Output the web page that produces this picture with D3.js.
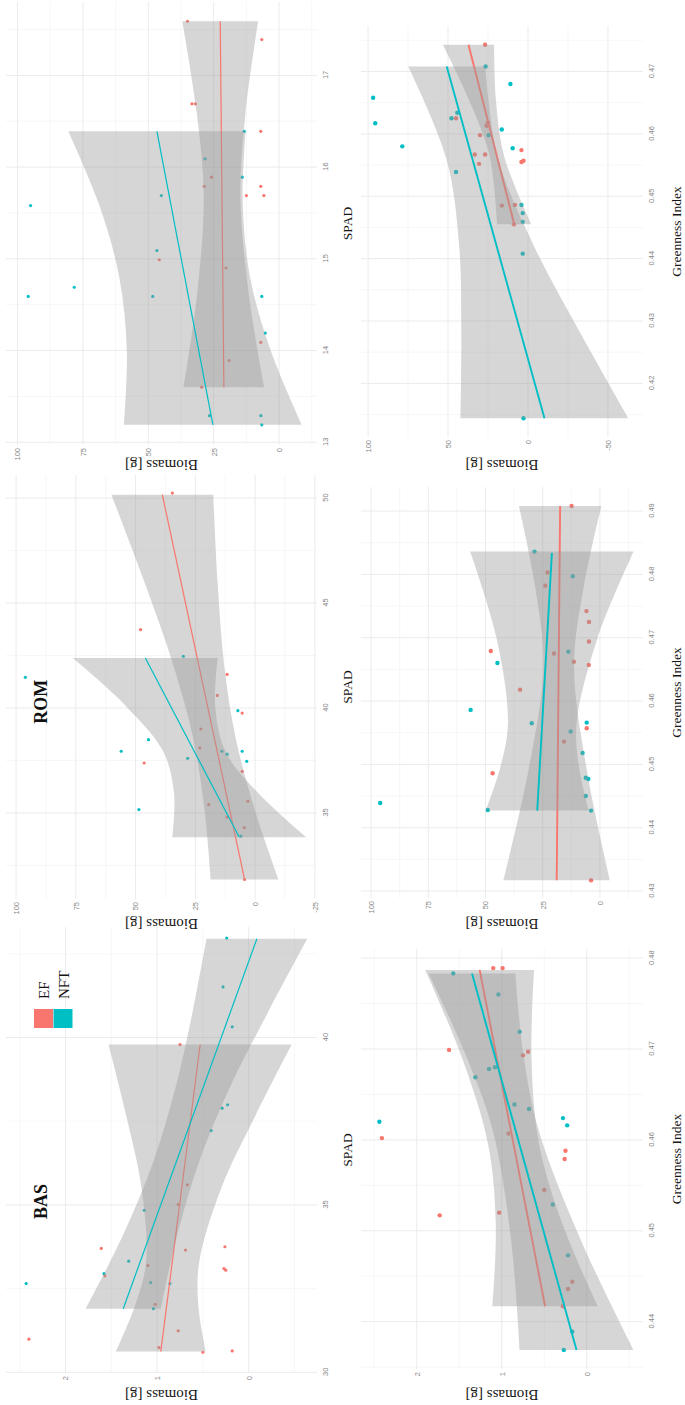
<!DOCTYPE html>
<html>
<head>
<meta charset="utf-8">
<script src="https://cdn.jsdelivr.net/npm/d3@7"></script>
<style>
html, body { margin: 0; padding: 0; background: #fff; }
svg { display: block; }
.tick text { font-family: "Liberation Sans Narrow", "Liberation Sans", Arial, sans-serif; font-size: 7.5px; fill: #858585; }
.axis-title { font-family: "Liberation Serif", "Times New Roman", serif; fill: #151515; }
.tag { font-family: "Liberation Serif", "Times New Roman", serif; font-weight: bold; font-size: 18px; fill: #111; }
</style>
</head>
<body>
<div id="root"></div>
<script>
var EF_COLOR = "#F8766D",
    NFT_COLOR = "#00BFC4";

// ---- BAS, SPAD ----  [SPAD, biomass]
var basSpadEF = [[30.99, 2.40], [30.60, 0.50], [30.64, 0.18], [30.74, 0.98], [31.24, 0.77], [32.03, 1.02],
    [32.88, 1.57], [33.19, 1.10], [33.05, 0.25], [33.10, 0.27], [33.70, 1.61], [33.65, 0.69], [33.75, 0.26],
    [35.01, 0.77], [35.60, 0.67], [39.79, 0.75]];
var basSpadNFT = [[32.65, 2.43], [32.95, 1.58], [32.68, 1.07], [32.65, 0.86], [31.90, 1.04], [33.32, 1.31],
    [34.84, 1.14], [37.22, 0.41], [37.89, 0.29], [37.99, 0.23], [40.32, 0.18], [41.51, 0.28], [42.97, 0.24]];
var basSpadEFFit = [[30.62, 0.96], [39.79, 0.53]];
var basSpadNFTFit = [[31.90, 1.37], [42.95, -0.09]];
// [x, lower, upper]
var basSpadEFBand = [[30.62, 0.47, 1.45], [32.0, 0.55, 1.24], [33.3, 0.54, 1.12], [35.5, 0.30, 1.17], [37.7, -0.08, 1.34], [39.79, -0.47, 1.53]];
var basSpadNFTBand = [[31.90, 0.96, 1.78], [34.0, 0.79, 1.39], [36.3, 0.54, 1.04], [38.6, 0.19, 0.79], [40.8, -0.22, 0.61], [42.95, -0.64, 0.46]];

// ---- ROM, SPAD ----
var romSpadEF = [[50.24, 34.6], [43.73, 47.9], [41.60, 11.7], [40.60, 15.8], [39.76, 5.4], [39.00, 22.7],
    [38.10, 23.1], [37.38, 46.4], [36.98, 5.4], [35.40, 19.4], [35.56, 3.0], [34.80, 11.7], [34.30, 4.5], [31.83, 4.4]];
var romSpadNFT = [[41.46, 96.1], [42.46, 30.0], [39.87, 7.2], [37.94, 56.0], [38.49, 44.6], [37.60, 28.2],
    [37.94, 13.9], [37.94, 5.4], [37.80, 11.7], [37.46, 3.5], [35.16, 48.6], [33.90, 5.9]];
var romSpadEFFit = [[31.83, 4.4], [50.16, 38.8]];
var romSpadNFTFit = [[33.84, 6.6], [42.38, 45.9]];
var romSpadEFBand = [[31.83, -9.8, 18.6], [35.0, -0.3, 21.0], [38.5, 8.0, 25.8], [42.0, 12.9, 34.1], [46.0, 15.7, 46.3], [50.16, 17.5, 60.1]];
var romSpadNFTBand = [[33.84, -21.4, 34.6], [35.9, -1.7, 33.9], [37.9, 12.3, 38.3], [40.1, 16.7, 54.1], [42.38, 15.6, 76.2]];

// ---- third cultivar, SPAD ----
var thirdSpadEF = [[17.59, 35.0], [17.39, 6.6], [16.69, 33.3], [16.69, 32.0], [16.39, 7.0], [15.79, 28.6],
    [15.89, 25.8], [15.79, 7.0], [15.69, 12.5], [15.69, 5.8], [14.99, 45.8], [14.90, 20.3], [14.09, 7.0],
    [13.89, 19.1], [13.60, 29.6]];
var thirdSpadNFT = [[15.58, 95.0], [14.59, 95.9], [14.69, 78.3], [14.59, 48.3], [15.09, 46.7], [15.69, 45.0],
    [16.09, 28.3], [15.89, 14.1], [16.39, 13.3], [14.59, 6.6], [14.19, 5.3], [13.29, 26.6], [13.29, 6.95], [13.19, 6.6]];
var thirdSpadEFFit = [[13.60, 21.1], [17.59, 22.5]];
var thirdSpadNFTFit = [[13.19, 25.3], [16.39, 46.7]];
var thirdSpadEFBand = [[13.60, 5.7, 36.5], [14.6, 11.5, 31.4], [15.67, 14.8, 28.8], [16.6, 12.8, 31.5], [17.59, 8.0, 37.0]];
var thirdSpadNFTBand = [[13.19, -8.7, 59.3], [14.0, 3.2, 58.2], [14.8, 11.1, 61.1], [15.6, 13.9, 68.9], [16.39, 12.8, 80.6]];

// ---- BAS, Greenness Index ----
var basGiEF = [[0.4602, 2.41], [0.4517, 1.73], [0.4699, 1.62], [0.4789, 1.10], [0.4789, 0.99], [0.4520, 1.03],
    [0.4693, 0.75], [0.4697, 0.69], [0.4607, 0.92], [0.4545, 0.50], [0.4579, 0.26], [0.4588, 0.25],
    [0.4436, 0.22], [0.4444, 0.17], [0.4417, 0.28]];
var basGiNFT = [[0.4620, 2.44], [0.4783, 1.57], [0.4760, 1.04], [0.4719, 0.79], [0.4669, 1.31], [0.4678, 1.15],
    [0.4680, 1.08], [0.4639, 0.85], [0.4634, 0.68], [0.4624, 0.28], [0.4616, 0.23], [0.4529, 0.40],
    [0.4473, 0.22], [0.4389, 0.17], [0.4369, 0.27]];
var basGiEFFit = [[0.4417, 0.49], [0.4787, 1.26]];
var basGiNFTFit = [[0.4369, 0.12], [0.4783, 1.35]];
var basGiEFBand = [[0.4417, -0.13, 1.11], [0.4506, 0.28, 1.07], [0.4595, 0.56, 1.16], [0.4691, 0.65, 1.47], [0.4787, 0.62, 1.90]];
var basGiNFTBand = [[0.4369, -0.55, 0.79], [0.4490, 0.07, 0.89], [0.4612, 0.57, 1.11], [0.4697, 0.75, 1.44], [0.4783, 0.84, 1.86]];

// ---- ROM, Greenness Index ----
var romGiEF = [[0.4908, 12.4], [0.4803, 22.9], [0.4782, 23.9], [0.4742, 5.9], [0.4725, 4.8], [0.4694, 4.8],
    [0.4679, 47.7], [0.4675, 20.1], [0.4662, 11.4], [0.4657, 4.9], [0.4618, 34.9], [0.4557, 5.8],
    [0.4536, 15.7], [0.4486, 46.9], [0.4317, 3.9]];
var romGiNFT = [[0.4836, 28.6], [0.4797, 11.9], [0.4678, 13.8], [0.4660, 44.8], [0.4586, 56.5], [0.4565, 29.8],
    [0.4566, 5.8], [0.4552, 12.8], [0.4518, 7.6], [0.4477, 5.1], [0.4479, 6.2], [0.4450, 6.2],
    [0.4427, 3.9], [0.4428, 49.0], [0.4439, 96.0]];
var romGiEFFit = [[0.4317, 18.9], [0.4908, 17.4]];
var romGiNFTFit = [[0.4427, 27.4], [0.4834, 21.0]];
var romGiEFBand = [[0.4317, -4.4, 42.2], [0.4486, 5.5, 31.5], [0.4655, 11.3, 24.7], [0.4782, 7.0, 28.4], [0.4908, -0.6, 35.4]];
var romGiNFTBand = [[0.4427, 4.9, 49.9], [0.4497, 9.2, 43.4], [0.4566, 10.2, 40.2], [0.4700, 1.0, 45.2], [0.4836, -14.7, 56.7]];

// ---- third cultivar, Greenness Index ----
var thirdGiEF = [[0.4743, 26.8], [0.4625, 45.0], [0.4618, 25.1], [0.4613, 25.9], [0.4598, 30.0], [0.4567, 33.3],
    [0.4567, 26.8], [0.4574, 4.1], [0.4557, 2.8], [0.4555, 4.1], [0.4552, 30.6], [0.4486, 8.2],
    [0.4485, 16.4], [0.4455, 8.8]];
var thirdGiNFT = [[0.4658, 96.8], [0.4617, 95.5], [0.4580, 78.6], [0.4625, 47.8], [0.4634, 44.2], [0.4539, 45.0],
    [0.4708, 26.5], [0.4680, 11.0], [0.4607, 16.4], [0.4598, 24.6], [0.4577, 9.6], [0.4486, 4.1],
    [0.4473, 3.3], [0.4459, 3.3], [0.4408, 3.3], [0.4144, 2.8]];
var thirdGiEFFit = [[0.4455, 8.6], [0.4743, 37.2]];
var thirdGiNFTFit = [[0.4144, -10.3], [0.4708, 50.8]];
var thirdGiEFBand = [[0.4455, -2.1, 19.3], [0.4513, 7.7, 21.1], [0.4571, 15.6, 24.6], [0.4656, 20.1, 37.1], [0.4743, 21.2, 53.2]];
var thirdGiNFTBand = [[0.4144, -62.8, 42.2], [0.4280, -32.9, 41.7], [0.4420, -3.8, 43.0], [0.4560, 18.6, 51.0], [0.4708, 26.7, 74.9]];

// tick values
var basSpadTicks = [30, 35, 40],
    romSpadTicks = [35, 40, 45, 50],
    thirdSpadTicks = [13, 14, 15, 16, 17],
    basGiTicks = [0.44, 0.45, 0.46, 0.47, 0.48],
    romGiTicks = [0.43, 0.44, 0.45, 0.46, 0.47, 0.48, 0.49],
    thirdGiTicks = [0.42, 0.43, 0.44, 0.45, 0.46, 0.47],
    basBiomassTicks = [0, 1, 2],
    romSpadBiomassTicks = [-25, 0, 25, 50, 75, 100],
    thirdSpadBiomassTicks = [0, 25, 50, 75, 100],
    romGiBiomassTicks = [0, 25, 50, 75, 100],
    thirdGiBiomassTicks = [-50, 0, 50, 100];

var legendLabels = ["EF", "NFT"];

// the figure is laid out as a 1405 x 685 sheet, then turned a quarter left
var SHEET_W = 1405;

var panels = [
    { ef: basSpadEF, nft: basSpadNFT, efFit: basSpadEFFit, nftFit: basSpadNFTFit, efBand: basSpadEFBand, nftBand: basSpadNFTBand,
      xTicks: basSpadTicks, yTicks: basBiomassTicks, xDomain: [29.98, 43.3], yDomain: [-0.746, 2.65],
      left: 32, right: 478, top: 6, bottom: 317, yTitleX: 10, xTitle: "SPAD", tag: "BAS", tagAt: [35.1, 2.27], legend: true, row: 0 },
    { ef: romSpadEF, nft: romSpadNFT, efFit: romSpadEFFit, nftFit: romSpadNFTFit, efBand: romSpadEFBand, nftBand: romSpadNFTBand,
      xTicks: romSpadTicks, yTicks: romSpadBiomassTicks, xDomain: [30.9, 51.1], yDomain: [-25.9, 104.2],
      left: 506, right: 930, top: 6, bottom: 317, yTitleX: 481, xTitle: "SPAD", tag: "ROM", tagAt: [40.3, 89.6], row: 0 },
    { ef: thirdSpadEF, nft: thirdSpadNFT, efFit: thirdSpadEFFit, nftFit: thirdSpadNFTFit, efBand: thirdSpadEFBand, nftBand: thirdSpadNFTBand,
      xTicks: thirdSpadTicks, yTicks: thirdSpadBiomassTicks, xDomain: [12.97, 17.8], yDomain: [-14.5, 104.4],
      left: 960, right: 1403, top: 6, bottom: 317, yTitleX: 940, xTitle: "SPAD", row: 0 },
    { ef: basGiEF, nft: basGiNFT, efFit: basGiEFFit, nftFit: basGiNFTFit, efBand: basGiEFBand, nftBand: basGiNFTBand,
      xTicks: basGiTicks, yTicks: basBiomassTicks, xDomain: [0.4348, 0.481], yDomain: [-0.662, 2.656],
      left: 36, right: 456, top: 361, bottom: 643, yTitleX: 10, xTitle: "Greenness Index", row: 1 },
    { ef: romGiEF, nft: romGiNFT, efFit: romGiEFFit, nftFit: romGiNFTFit, efBand: romGiEFBand, nftBand: romGiNFTBand,
      xTicks: romGiTicks, yTicks: romGiBiomassTicks, xDomain: [0.4289, 0.4938], yDomain: [-18.8, 104.4],
      left: 507, right: 918, top: 361, bottom: 643, yTitleX: 481, xTitle: "Greenness Index", row: 1 },
    { ef: thirdGiEF, nft: thirdGiNFT, efFit: thirdGiEFFit, nftFit: thirdGiNFTFit, efBand: thirdGiEFBand, nftBand: thirdGiNFTBand,
      xTicks: thirdGiTicks, yTicks: thirdGiBiomassTicks, xDomain: [0.4114, 0.4773], yDomain: [-71.9, 104.4],
      left: 968, right: 1379, top: 361, bottom: 643, yTitleX: 940, xTitle: "Greenness Index", row: 1 }
];

var svg = d3.select("#root").append("svg")
    .attr("width", 685)
    .attr("height", 1405);

var sheet = svg.append("g")
    .attr("transform", "translate(0," + SHEET_W + ") rotate(-90)");

// minor breaks sit halfway between the major ones
function minorBreaks(ticks, domain) {
    var step = ticks[1] - ticks[0],
        out = [];
    for (var i = -1; i < ticks.length; i++) {
        var m = ticks[0] + (i + 0.5) * step;
        if (m > domain[0] && m < domain[1]) out.push(m);
    }
    return out;
}

function fmt(v) {
    if (Math.abs(v) < 1 && v !== 0) return v.toFixed(2);
    return String(v);
}

function drawPanel(p) {
    var g = sheet.append("g").classed("panel", true);

    var x = d3.scaleLinear().domain(p.xDomain).range([p.left, p.right]),
        y = d3.scaleLinear().domain(p.yDomain).range([p.bottom, p.top]);

    var pointR = p.row === 0 ? 1.6 : 2.2,
        lineW = p.row === 0 ? 1.2 : 1.9;

    // grid
    var grid = g.append("g").classed("grid", true);
    grid.selectAll(".vminor").data(minorBreaks(p.xTicks, p.xDomain)).enter().append("line")
        .attr("x1", d => x(d)).attr("x2", d => x(d)).attr("y1", p.top).attr("y2", p.bottom)
        .attr("stroke", "#f4f4f4").attr("stroke-width", 0.7);
    grid.selectAll(".hminor").data(minorBreaks(p.yTicks, p.yDomain)).enter().append("line")
        .attr("y1", d => y(d)).attr("y2", d => y(d)).attr("x1", p.left).attr("x2", p.right)
        .attr("stroke", "#f4f4f4").attr("stroke-width", 0.7);
    grid.selectAll(".vmajor").data(p.xTicks).enter().append("line")
        .attr("x1", d => x(d)).attr("x2", d => x(d)).attr("y1", p.top).attr("y2", p.bottom)
        .attr("stroke", "#ebebeb").attr("stroke-width", 1);
    grid.selectAll(".hmajor").data(p.yTicks).enter().append("line")
        .attr("y1", d => y(d)).attr("y2", d => y(d)).attr("x1", p.left).attr("x2", p.right)
        .attr("stroke", "#ebebeb").attr("stroke-width", 1);

    // points first, the smooth layers go on top like in ggplot
    [[p.ef, EF_COLOR], [p.nft, NFT_COLOR]].forEach(function (s) {
        g.append("g").selectAll("circle").data(s[0]).enter().append("circle")
            .attr("cx", d => x(d[0]))
            .attr("cy", d => y(d[1]))
            .attr("r", pointR)
            .attr("fill", s[1]);
    });

    var area = d3.area()
        .x(d => x(d[0]))
        .y0(d => y(d[1]))
        .y1(d => y(d[2]))
        .curve(d3.curveCatmullRom);

    var line = d3.line()
        .x(d => x(d[0]))
        .y(d => y(d[1]));

    [[p.efBand, p.efFit, EF_COLOR], [p.nftBand, p.nftFit, NFT_COLOR]].forEach(function (s) {
        g.append("path").datum(s[0])
            .attr("d", area)
            .attr("fill", "#999999")
            .attr("fill-opacity", 0.4);
        g.append("path").datum(s[1])
            .attr("d", line)
            .attr("fill", "none")
            .attr("stroke", s[2])
            .attr("stroke-width", lineW);
    });

    // axes
    var xAxis = d3.axisBottom(x).tickValues(p.xTicks).tickSize(0).tickPadding(6).tickFormat(fmt);
    var yAxis = d3.axisLeft(y).tickValues(p.yTicks).tickSize(0).tickPadding(3).tickFormat(fmt);

    g.append("g").attr("transform", "translate(0," + p.bottom + ")").call(xAxis)
        .call(a => a.select(".domain").remove());
    g.append("g").attr("transform", "translate(" + p.left + ",0)").call(yAxis)
        .call(a => a.select(".domain").remove());

    // titles
    g.append("text").classed("axis-title", true)
        .attr("x", (p.left + p.right) / 2)
        .attr("y", p.row === 0 ? 352 : 681)
        .attr("text-anchor", "middle")
        .style("font-size", "13.5px")
        .text(p.xTitle);

    g.append("text").classed("axis-title", true)
        .attr("transform", "translate(" + (p.yTitleX + 5) + "," + ((p.top + p.bottom) / 2) + ") rotate(-90)")
        .attr("text-anchor", "middle")
        .style("font-size", "15px")
        .text("Biomass [g]");

    if (p.tag) {
        g.append("text").classed("tag", true)
            .attr("x", x(p.tagAt[0]))
            .attr("y", y(p.tagAt[1]))
            .attr("text-anchor", "middle")
            .attr("dominant-baseline", "central")
            .text(p.tag);
    }

    if (p.legend) {
        var lg = g.append("g").attr("transform", "translate(377,34)");
        lg.selectAll("rect").data([EF_COLOR, NFT_COLOR]).enter().append("rect")
            .attr("x", 0).attr("y", (d, i) => i * 19.5)
            .attr("width", 19).attr("height", 19)
            .attr("fill", d => d);
        lg.selectAll("text").data(legendLabels).enter().append("text")
            .classed("axis-title", true)
            .attr("x", 29).attr("y", (d, i) => i * 19.5 + 10)
            .attr("dominant-baseline", "central")
            .style("font-size", "15px")
            .text(d => d);
    }
}

panels.forEach(drawPanel);
</script>
</body>
</html>
